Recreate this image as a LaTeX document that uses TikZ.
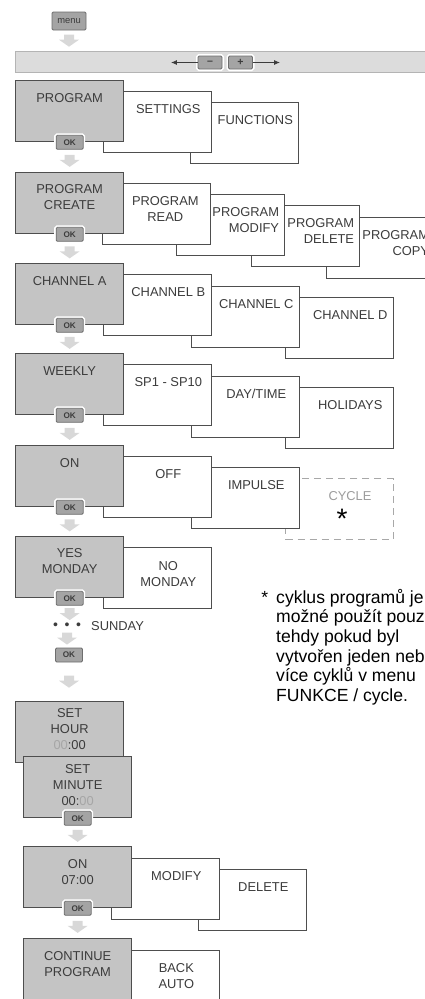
\documentclass[tikz,border=0pt]{standalone}
\usepackage{fontspec}
\setmainfont{Liberation Sans}
\usetikzlibrary{positioning,calc,arrows.meta}

\definecolor{boxgray}{HTML}{C4C4C4}
\definecolor{edgegray}{HTML}{4E4E4E}
\definecolor{textgray}{HTML}{3C3C3C}
\definecolor{bargray}{HTML}{DCDCDC}
\definecolor{barline}{HTML}{B4B4B4}
\definecolor{btngray}{HTML}{A4A4A4}
\definecolor{btnedge}{HTML}{6E6E6E}
\definecolor{arrowgray}{HTML}{D8D8D8}
\definecolor{dashgray}{HTML}{A8A8A8}
\definecolor{softgray}{HTML}{9C9C9C}
\definecolor{digitgray}{HTML}{A6A6A6}

\newlength{\px}
\setlength{\px}{0.03cm}

\begin{document}
\begin{tikzpicture}[x=0.03cm, y=-0.03cm,
	every node/.style={text=textgray, font=\fontsize{11}{13.6}\selectfont},
	subbox/.style={draw=edgegray, fill=white, line width=1.3\px, anchor=north west,
		minimum width=108\px, minimum height=61\px, inner sep=0pt},
	mainbox/.style={subbox, fill=boxgray},
	cyclebox/.style={subbox, draw=dashgray, fill=none, line width=1\px, dash pattern=on 6pt off 4.3pt},
	boxtext/.style={anchor=north, align=center, inner sep=0pt},
	button/.style={draw=btnedge, fill=btngray, line width=0.8\px, inner sep=0pt,
		rounded corners=1.2\px, preaction={draw=white, line width=4\px}},
	okbtn/.style={button, minimum width=27\px, minimum height=14\px,
		font=\fontsize{7}{7}\selectfont\bfseries},
	downarr/.pic={\fill[arrowgray] (-5,-6) -- (5,-6) -- (5,-1) -- (10,-1) -- (0,6) -- (-10,-1) -- (-5,-1) -- cycle;}
	]
	\useasboundingbox (0,0) rectangle (425,999);
	\clip (0,0) rectangle (425,999);
	
	% menu key and scroll bar
	\node[button, minimum width=34\px, minimum height=18\px, font=\fontsize{8}{8}\selectfont] (menu) at (69,21) {menu};
	\node[fill=bargray, draw=barline, line width=1\px, anchor=north west, minimum width=420\px,
		minimum height=21\px, inner sep=0pt] (bar) at (15,51) {};
	\node[button, minimum width=24\px, minimum height=13\px, font=\fontsize{9}{9}\selectfont\bfseries] (minus) at (210,62.5) {–};
	\node[button, minimum width=24\px, minimum height=13\px, font=\fontsize{9}{9}\selectfont\bfseries] (plus) at (240.5,62.5) {+};
	\coordinate (lend) at (171,62.5);
	\coordinate (rend) at (280,62.5);
	\draw[textgray, line width=0.7pt, -{Latex[length=5pt,width=4.2pt]}] (minus.west) -- (lend);
	\draw[textgray, line width=0.7pt, -{Latex[length=5pt,width=4.2pt]}] (plus.east) -- (rend);
	
	% PROGRAM
	\foreach \n/\x/\y/\t in {fun/190/102/FUNCTIONS, sett/103/91/SETTINGS}{
		\node[subbox] (\n) at (\x,\y) {};
		\node[boxtext] (\n-t) at ($(\n.north east)+(-44,13)$) {\t};
	}
	\node[mainbox] (prog) at (15,80) {};
	\node[boxtext] (prog-t) at ($(prog.north)+(0,13)$) {PROGRAM};
	\node[okbtn] (ok1) at (prog.south) {OK};
	
	% PROGRAM CREATE
	\foreach \n/\x/\y/\t in {pcopy/326/217/{PROGRAM\\COPY}, pdel/251/205/{PROGRAM\\DELETE}, pmod/176/194/{PROGRAM\\MODIFY}}{
		\node[subbox] (\n) at (\x,\y) {};
		\node[boxtext, anchor=north east, align=right] (\n-t) at ($(\n.north east)+(-6,13)$) {\t};
	}
	\node[subbox] (pread) at (102,183) {};
	\node[boxtext] (pread-t) at ($(pread.north east)+(-46,13)$) {PROGRAM\\READ};
	\node[mainbox] (create) at (15,172) {};
	\node[boxtext] (create-t) at ($(create.north)+(0,12.5)$) {PROGRAM\\CREATE};
	\node[okbtn] (ok2) at (create.south) {OK};
	
	% CHANNEL
	\foreach \n/\x/\y/\t in {chd/285/297/{CHANNEL D}, chc/191/286/{CHANNEL C}, chb/103/274/{CHANNEL B}}{
		\node[subbox] (\n) at (\x,\y) {};
		\node[boxtext] (\n-t) at ($(\n.north east)+(-44,13)$) {\t};
	}
	\node[mainbox] (cha) at (15,263) {};
	\node[boxtext] (cha-t) at ($(cha.north)+(0,13)$) {CHANNEL A};
	\node[okbtn] (ok3) at (cha.south) {OK};
	
	% WEEKLY
	\foreach \n/\x/\y/\t in {hol/285/387/HOLIDAYS, day/191/376/{DAY/TIME}, sp/103/364/{SP1 - SP10}}{
		\node[subbox] (\n) at (\x,\y) {};
		\node[boxtext] (\n-t) at ($(\n.north east)+(-44,13)$) {\t};
	}
	\node[mainbox] (week) at (15,353) {};
	\node[boxtext] (week-t) at ($(week.north)+(0,13)$) {WEEKLY};
	\node[okbtn] (ok4) at (week.south) {OK};
	
	% ON / OFF / IMPULSE / CYCLE
	\node[cyclebox] (cyc) at (285,478) {};
	\node[boxtext, text=softgray] (cyc-t) at ($(cyc.north east)+(-44,13)$) {CYCLE};
	\node[inner sep=0pt, anchor=north, text=black, font=\fontsize{24}{24}\selectfont] (star) at (342,509) {*};
	\foreach \n/\x/\y/\t in {imp/191/467/IMPULSE, off/103/456/OFF}{
		\node[subbox] (\n) at (\x,\y) {};
		\node[boxtext] (\n-t) at ($(\n.north east)+(-44,13)$) {\t};
	}
	\node[mainbox] (on) at (15,445) {};
	\node[boxtext] (on-t) at ($(on.north)+(0,13)$) {ON};
	\node[okbtn] (ok5) at (on.south) {OK};
	
	% YES MONDAY
	\node[subbox] (nomon) at (103,547) {};
	\node[boxtext] (nomon-t) at ($(nomon.north east)+(-44,14)$) {NO\\MONDAY};
	\node[mainbox] (yesmon) at (15,536) {};
	\node[boxtext] (yesmon-t) at ($(yesmon.north)+(0,12.5)$) {YES\\MONDAY};
	\node[okbtn] (ok6) at (yesmon.south) {OK};
	
	% ... SUNDAY
	\node[inner sep=0pt, font=\fontsize{12}{12}\selectfont] (dots) at (67,626) {•\hspace{5.6pt}•\hspace{5.6pt}•};
	\node[anchor=west, inner sep=0pt] (sun) at (91,626) {SUNDAY};
	\node[okbtn] (ok7) at (69,655) {OK};
	
	% SET HOUR / SET MINUTE
	\node[mainbox] (hour) at (15,701) {};
	\node[boxtext] (hour-t) at ($(hour.north)+(0,7.5)$) {SET\\HOUR\\{\color{digitgray}00}:00};
	\node[mainbox] (minute) at (23,756) {};
	\node[boxtext] (minute-t) at ($(minute.north)+(0,8.5)$) {SET\\MINUTE\\00:{\color{digitgray}00}};
	\node[okbtn] (ok8) at (minute.south) {OK};
	
	% ON 07:00
	\foreach \n/\x/\y/\t in {odel/198/869/DELETE, omod/111/858/MODIFY}{
		\node[subbox] (\n) at (\x,\y) {};
		\node[boxtext] (\n-t) at ($(\n.north east)+(-44,13)$) {\t};
	}
	\node[mainbox] (on7) at (23,846) {};
	\node[boxtext] (on7-t) at ($(on7.north)+(0,13)$) {ON\\07:00};
	\node[okbtn] (ok9) at (on7.south) {OK};
	
	% CONTINUE PROGRAM
	\node[subbox, minimum height=64\px] (back) at (111,950) {};
	\node[boxtext] (back-t) at ($(back.north east)+(-44,13)$) {BACK\\AUTO};
	\node[mainbox, minimum height=64\px] (cont) at (23,938) {};
	\node[boxtext] (cont-t) at ($(cont.north)+(0,13)$) {CONTINUE\\PROGRAM};
	
	% footnote
	\node[anchor=north west, align=left, inner sep=0pt, text=black, font=\fontsize{15}{16.7}\selectfont] (note) at (276,589)
		{\llap{*\hspace{6.8pt}}cyklus programů je\\možné použít pouze\\tehdy pokud byl\\vytvořen jeden nebo\\více cyklů v menu\\FUNKCE / cycle.};
	
	% down arrows
	\foreach \a/\b in {menu/bar, ok1/create, ok2/cha, ok3/week, ok4/on, ok5/yesmon, ok6/dots, dots/ok7, ok7/hour, ok8/on7, ok9/cont}
		\pic at ($(\a.south)!0.5!(\a.south |- \b.north)$) {downarr};
\end{tikzpicture}
\end{document}
